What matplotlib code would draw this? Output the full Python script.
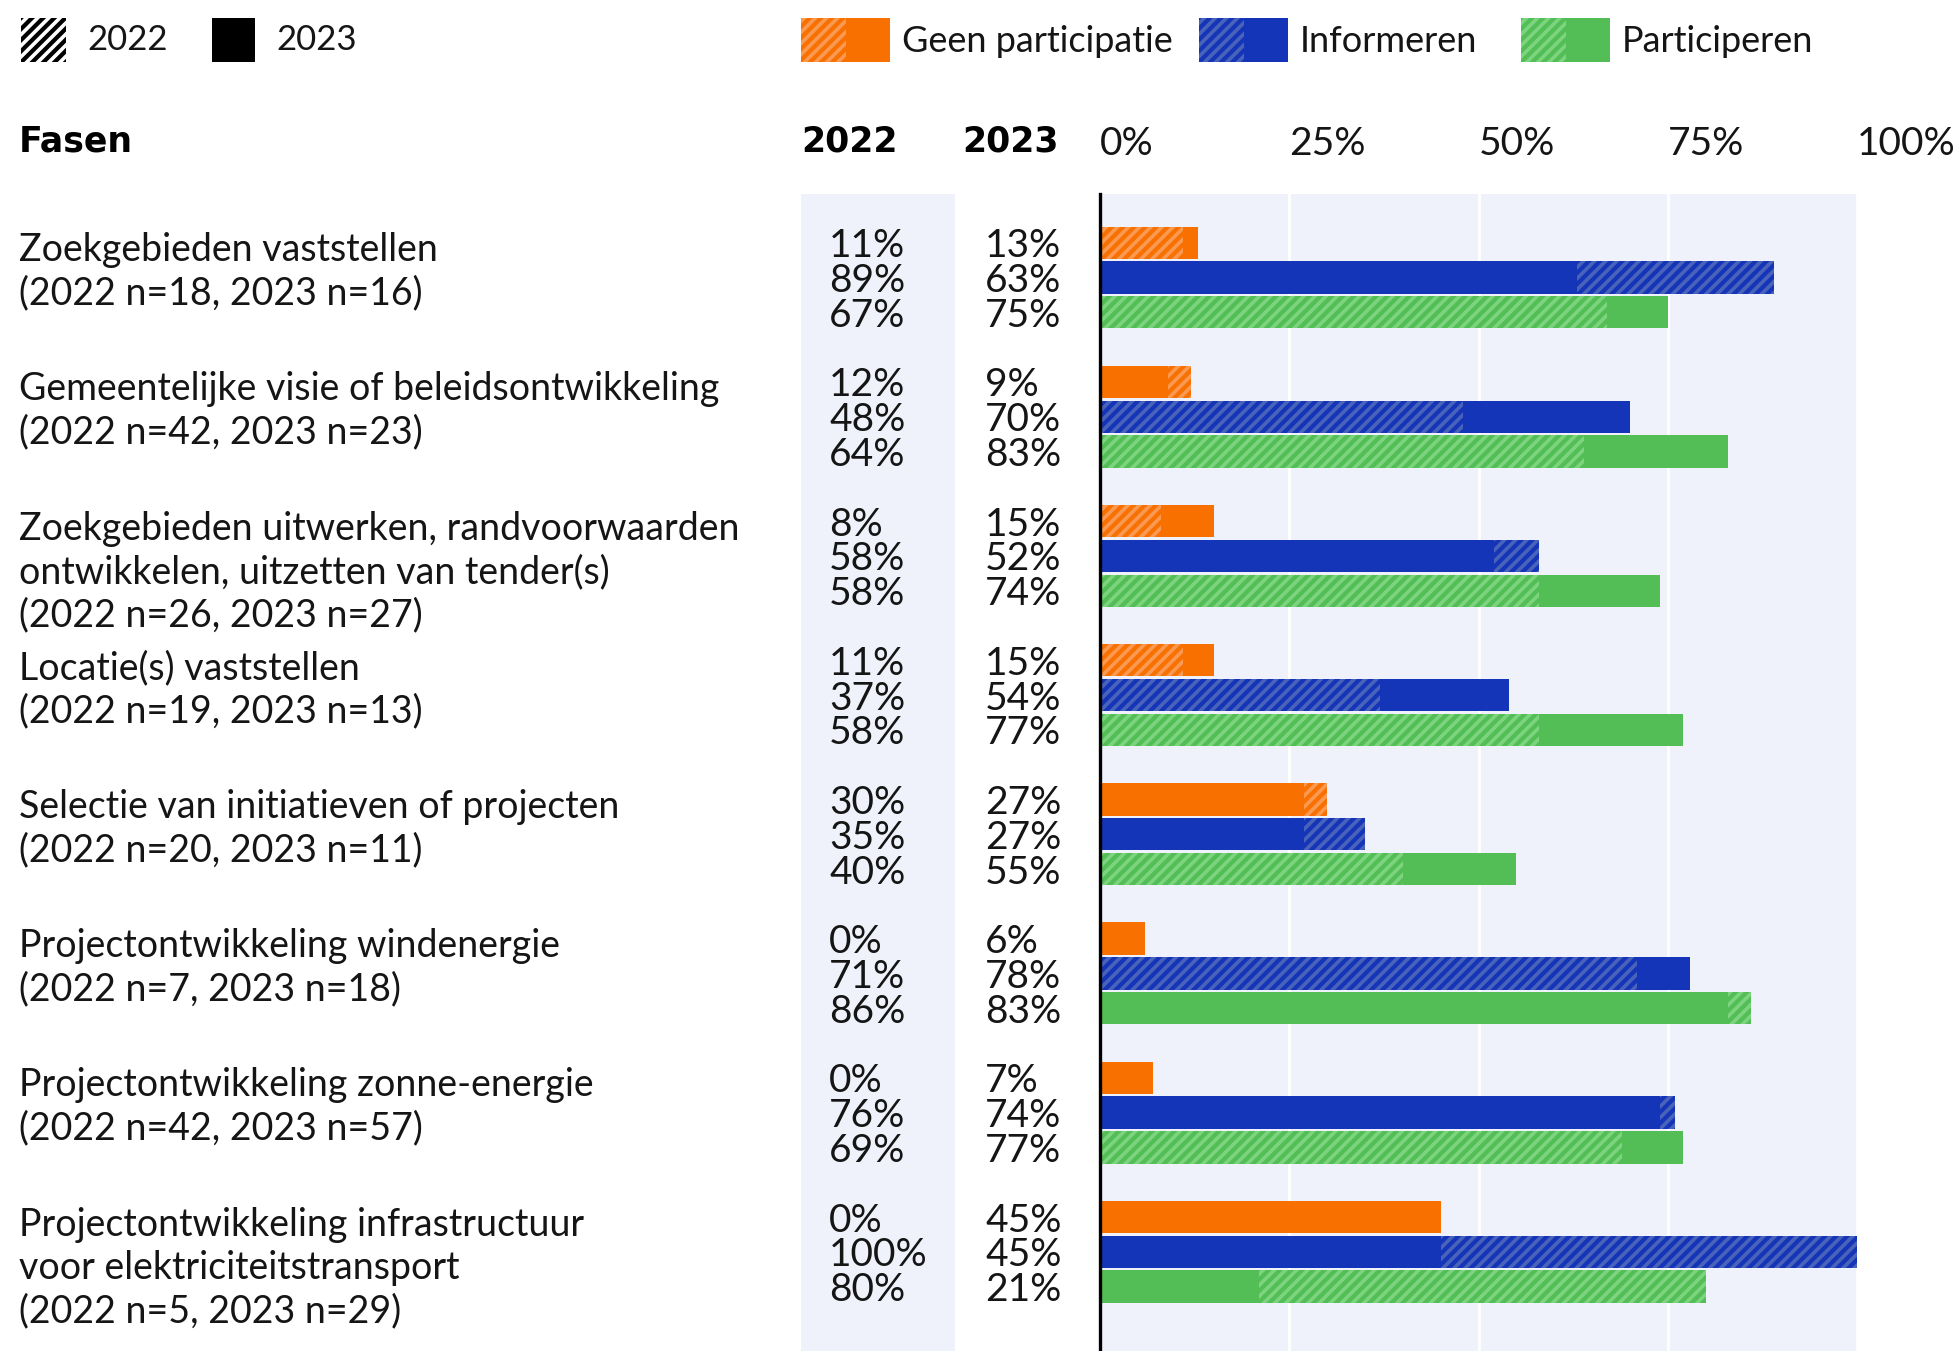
import matplotlib.pyplot as plt
from matplotlib.patches import Rectangle
import matplotlib.transforms as mtransforms

plt.rcParams['font.family'] = ['Lato', 'DejaVu Sans']
plt.rcParams['hatch.linewidth'] = 2.6

# data
fasen = [
    'Zoekgebieden vaststellen\n(2022 n=18, 2023 n=16)',
    'Gemeentelijke visie of beleidsontwikkeling\n(2022 n=42, 2023 n=23)',
    'Zoekgebieden uitwerken, randvoorwaarden\nontwikkelen, uitzetten van tender(s)\n(2022 n=26, 2023 n=27)',
    'Locatie(s) vaststellen\n(2022 n=19, 2023 n=13)',
    'Selectie van initiatieven of projecten\n(2022 n=20, 2023 n=11)',
    'Projectontwikkeling windenergie\n(2022 n=7, 2023 n=18)',
    'Projectontwikkeling zonne-energie\n(2022 n=42, 2023 n=57)',
    'Projectontwikkeling infrastructuur\nvoor elektriciteitstransport\n(2022 n=5, 2023 n=29)',
]
series = ['Geen participatie', 'Informeren', 'Participeren']
geen_2022 = [11, 12, 8, 11, 30, 0, 0, 0]
geen_2023 = [13, 9, 15, 15, 27, 6, 7, 45]
info_2022 = [89, 48, 58, 37, 35, 71, 76, 100]
info_2023 = [63, 70, 52, 54, 27, 78, 74, 45]
part_2022 = [67, 64, 58, 58, 40, 86, 69, 80]
part_2023 = [75, 83, 74, 77, 55, 83, 77, 21]
ticks = [0, 25, 50, 75, 100]

vals_2022 = [geen_2022, info_2022, part_2022]
vals_2023 = [geen_2023, info_2023, part_2023]
kleuren = ['#F87000', '#1535B8', '#52BE55']
licht = ['#FA9A52', '#4A63BA', '#7DD47F']
achtergrond = '#EFF2FA'
tekst = '#151515'

W, H = 1959, 1351
fig = plt.figure(figsize=(W / 100, H / 100), dpi=100)
ax = fig.add_axes([1100 / W, 0, 757 / W, 1157 / H])
ax.set_facecolor(achtergrond)

# kolom 2022 achtergrond
fig.add_artist(Rectangle((801 / W, 0), 154 / W, 1157 / H, transform=fig.transFigure,
                         facecolor=achtergrond, edgecolor='none', zorder=0))

hoogte = 0.93
for s in range(3):
    for i in range(len(fasen)):
        y = 4 * i + s
        v22 = vals_2022[s][i]
        v23 = vals_2023[s][i]
        # grootste eerst tekenen, kleinste erbovenop
        z22, z23 = (2, 3) if v22 >= v23 else (3, 2)
        ax.barh(y, v23, height=hoogte, color=kleuren[s], linewidth=0, zorder=z23)
        if v22 > 0:
            ax.barh(y, v22, height=hoogte, color=kleuren[s], edgecolor=licht[s],
                    hatch='///', linewidth=0, zorder=z22)

ax.set_xlim(0, 100)
ax.set_ylim(31.85, -1.4)
ax.set_xticks(ticks)
ax.set_yticks([])
ax.tick_params(axis='x', length=0, labelbottom=False)
ax.grid(axis='x', color='white', linewidth=2, zorder=1)
ax.set_axisbelow(True)
for k in ['top', 'right', 'bottom']:
    ax.spines[k].set_visible(False)
ax.spines['left'].set_linewidth(2.4)
ax.spines['left'].set_zorder(5)

# as-labels bovenaan
for t in ticks:
    ax.text(t, 1.043, f'{t}%', transform=ax.get_xaxis_transform(), ha='left',
            va='center', fontsize=28, color=tekst)

# percentages en fasen
tr = mtransforms.blended_transform_factory(fig.transFigure, ax.transData)
for i, naam in enumerate(fasen):
    ax.text(19 / W, 4 * i - 0.3, naam, transform=tr, ha='left', va='top',
            fontsize=27, color=tekst, linespacing=1.25)
    for s in range(3):
        y = 4 * i + s + 0.1
        ax.text(829 / W, y, f'{vals_2022[s][i]}%', transform=tr, ha='left',
                va='center', fontsize=28, color=tekst)
        ax.text(985 / W, y, f'{vals_2023[s][i]}%', transform=tr, ha='left',
                va='center', fontsize=28, color=tekst)

# kopjes
kop = dict(family=['DejaVu Sans'], fontweight='bold', fontsize=25,
           va='center', ha='left', color='black')
fig.text(19 / W, 1 - 142 / H, 'Fasen', **kop)
fig.text(801 / W, 1 - 142 / H, '2022', **kop)
fig.text(962 / W, 1 - 142 / H, '2023', **kop)

# legenda jaren
fig.add_artist(Rectangle((21 / W, 1 - 62 / H), 45 / W, 44 / H, transform=fig.transFigure,
                         facecolor='black', edgecolor='white', hatch='///', linewidth=0))
fig.text(87 / W, 1 - 40 / H, '2022', fontsize=25, va='center', ha='left', color=tekst)
fig.add_artist(Rectangle((212 / W, 1 - 62 / H), 43 / W, 44 / H, transform=fig.transFigure,
                         facecolor='black', edgecolor='none'))
fig.text(276 / W, 1 - 40 / H, '2023', fontsize=25, va='center', ha='left', color=tekst)

# legenda reeksen
leg_x = [801, 1199, 1521]
for s, naam in enumerate(series):
    x0 = leg_x[s]
    fig.add_artist(Rectangle((x0 / W, 1 - 62 / H), 45 / W, 44 / H, transform=fig.transFigure,
                             facecolor=kleuren[s], edgecolor=licht[s], hatch='///', linewidth=0))
    fig.add_artist(Rectangle(((x0 + 45) / W, 1 - 62 / H), 44 / W, 44 / H,
                             transform=fig.transFigure, facecolor=kleuren[s], edgecolor='none'))
    fig.text((x0 + 101) / W, 1 - 42 / H, naam, fontsize=26, va='center', ha='left',
             color=tekst)

fig.savefig('out.png', dpi=100, facecolor='white')
